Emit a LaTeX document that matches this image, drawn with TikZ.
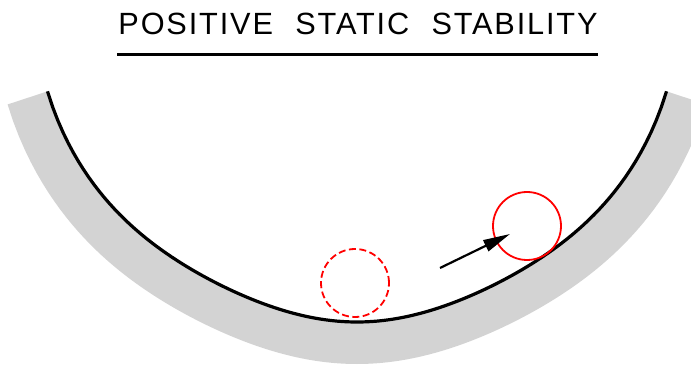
\documentclass[tikz,border=0pt]{standalone}
\usepackage{fontspec}
\setmainfont{Liberation Sans}
\usetikzlibrary{arrows.meta}
\definecolor{bandgray}{RGB}{211,211,211}
\definecolor{ballred}{RGB}{255,0,0}

\begin{document}
\begin{tikzpicture}[x=1pt, y=1pt,
    heading/.style={inner sep=0pt,
      font=\fontsize{30.7}{36}\selectfont\addfontfeatures{LetterSpace=6}},
    bowl/.style={draw=black, line width=3.2pt, line join=round},
    ball/.style={circle, draw=ballred, line width=1.8pt,
      minimum size=68pt, inner sep=0pt},
    push/.style={-{Triangle[length=27pt, width=12pt]}, line width=2.2pt}
  ]
    \useasboundingbox (0,0) rectangle (691,367);
    \clip (0,0) rectangle (691,367);
    \def\bowlcurve{plot[domain=-309.5:309.5, samples=121]
      ({357+\x}, {368-100*sqrt(10.4329-(\x/100)*(\x/100))
        +7*(sin(0.5625*\x))^2})}

    % Titulo
    \node[heading] (title) at (358,343)
      {POSITIVE\hspace{12pt} STATIC\hspace{12pt} STABILITY};
    \draw[line width=3pt] (117,312) -- (598,312);

    % Cuenco
    \begin{scope}
      \clip \bowlcurve -- (724,268) -- (724,-60) -- (-30,-60)
        -- (-10,268) -- cycle;
      \draw[bandgray, line width=84pt] \bowlcurve;
    \end{scope}
    \draw[bowl] \bowlcurve;

    % Bolas
    \node[ball, dash pattern=on 7pt off 3.5pt] (restball) at (355,84) {};
    \node[ball] (movedball) at (527,141) {};

    % Desplazamiento
    \coordinate (pushfrom) at (440,99);
    \coordinate (pushto) at (510,133);
    \draw[push] (pushfrom) -- (pushto);
  \end{tikzpicture}
\end{document}
